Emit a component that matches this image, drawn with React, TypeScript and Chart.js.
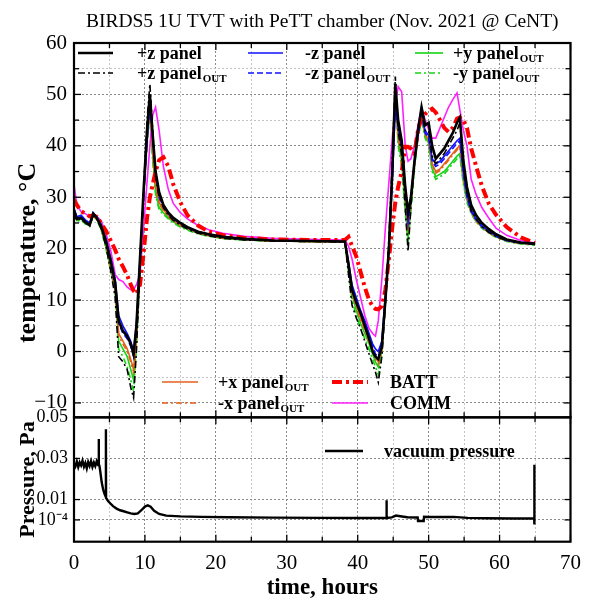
import React, { useEffect, useRef } from 'react';
import { Chart, registerables } from 'chart.js';

Chart.register(...registerables);

const FONT = "'Liberation Serif', 'Times New Roman', serif";

const chartTitle = 'BIRDS5 1U TVT with PeTT chamber (Nov. 2021 @ CeNT)';
const xTitle = 'time, hours';
const tempTitle = 'temperature, °C';
const pressTitle = 'Pressure, Pa';

// shared time grid for the temperature traces (hours)
const hours = [0, 0.4, 1, 1.6, 2.2, 2.7, 3.2, 3.8, 4.5, 5.2,
  5.8, 6.3, 6.9, 7.5, 8, 8.4, 8.8, 9.3, 9.8, 10.3,
  10.7, 11.1, 11.5, 12, 12.6, 13.3, 14, 15, 16, 17.5,
  19, 21, 24, 28, 33, 38.2, 38.7, 39.2, 39.8, 40.4,
  41, 41.6, 42.1, 42.5, 42.9, 43.4, 43.9, 44.4, 44.9, 45.3,
  45.7, 46.2, 46.7, 47.1, 47.5, 48, 48.5, 49, 49.5, 50,
  50.5, 51, 51.6, 52.2, 52.8, 53.4, 54, 54.4, 54.9, 55.4,
  56, 56.7, 57.5, 58.5, 59.5, 61, 63, 65];

const pzPanel = [27.5, 25.8, 26, 25.2, 24.6, 26.8, 26, 24.5, 21.5, 17.5,
  13.5, 6, 4, 3, 1.5, -0.5, 5, 18, 31, 43,
  50, 42, 35, 31, 28.5, 27, 26, 25, 24.2, 23.3,
  22.8, 22.3, 21.9, 21.6, 21.5, 21.4, 17, 12, 9.5, 7.5,
  5, 2.5, 0, -1, -1.5, 1, 10, 20, 36, 52,
  45, 41, 32, 27, 30, 37, 43, 47.5, 44, 44.5,
  40, 37.5, 38.5, 39.5, 41, 42.5, 44.5, 45.5, 37, 32,
  28.5, 26.5, 25, 23.8, 22.8, 21.8, 21.2, 21];

const pzOut = [27, 25.5, 25.8, 25, 24.4, 26.5, 25.8, 24, 20.5, 15.5,
  10.5, -1, -2, -3.5, -7, -9, 0, 16, 31, 45,
  52, 43, 34, 30, 28, 26.5, 25.5, 24.6, 23.8, 23,
  22.5, 22, 21.7, 21.5, 21.4, 21.3, 15, 9, 6.5, 4.5,
  2, -0.5, -2.5, -4, -6, -1, 9, 22, 38, 53.5,
  43, 38, 28, 19.5, 28, 37, 43, 47, 43, 43,
  38, 36.5, 37.5, 38.5, 40, 41.5, 43, 44.5, 36, 31,
  27.5, 25.8, 24.3, 23.2, 22.4, 21.6, 21.1, 20.8];

const mzPanel = [27.8, 26.2, 26.5, 25.6, 25, 27, 26.2, 24.8, 22, 18,
  14, 7, 5, 3.5, 2, 0, 5.5, 18, 30, 41,
  48.5, 42, 35, 30.5, 28.5, 27, 26, 25, 24.2, 23.3,
  22.8, 22.3, 21.9, 21.6, 21.5, 21.4, 17.5, 13, 10.5, 8,
  6, 3.5, 1.5, 0.5, 0, 2, 11, 20, 34, 47.5,
  44, 40, 32, 26, 30, 37, 42, 46, 43, 42,
  37.5, 36.5, 37, 38, 39, 40, 41, 41.5, 35, 30.5,
  27.5, 25.8, 24.5, 23.3, 22.5, 21.6, 21.1, 20.9];

const mzOut = [27.5, 26, 26.2, 25.4, 24.8, 26.8, 26, 24.5, 21.5, 17.2,
  13, 5.5, 3.5, 2.5, 1, -1, 4.5, 17, 30, 41.5,
  48, 41.5, 34.5, 30, 28.2, 26.8, 25.8, 24.8, 24, 23.2,
  22.7, 22.2, 21.8, 21.6, 21.5, 21.4, 17, 12.5, 10, 7.5,
  5.5, 3, 1, -0.5, -1, 1.5, 10.5, 20, 34, 48,
  43.5, 39.5, 31, 25, 29.5, 36.5, 42, 46, 42.5, 41.5,
  37, 36, 36.5, 37.5, 38.5, 39.5, 40.5, 41, 34.5, 30,
  27.2, 25.6, 24.3, 23.2, 22.4, 21.6, 21.1, 20.9];

const pyOut = [27, 25.5, 25.8, 25, 24.5, 26.5, 25.8, 24, 20.5, 16,
  12, 2, 0.5, -1, -3.5, -5.5, 2, 16, 30, 40.5,
  47, 38, 31, 28, 27, 26, 25.2, 24.4, 23.8, 23,
  22.5, 22, 21.7, 21.5, 21.4, 21.3, 16, 11, 8, 5.5,
  3.5, 1.5, -0.5, -2, -3, 0, 10, 21, 36, 51,
  41, 37, 28, 22, 28, 36, 42, 45.5, 42, 40.5,
  35.5, 34, 34.5, 35, 36, 37, 38, 38.5, 33, 29.5,
  27, 25.4, 24.2, 23.1, 22.3, 21.5, 21, 20.8];

const myOut = [26.8, 25.3, 25.6, 24.8, 24.3, 26.3, 25.6, 23.8, 20, 15.5,
  11.5, 0.5, -1, -3, -5.5, -7.8, 1, 15.5, 30, 40,
  46.5, 37, 30.5, 27.5, 26.7, 25.8, 25, 24.2, 23.6, 22.9,
  22.4, 22, 21.7, 21.5, 21.4, 21.3, 15.5, 10, 7, 4.5,
  2.5, 0.5, -1.5, -3, -4.5, -0.5, 9.5, 21, 36, 51.5,
  40, 36, 27, 21, 27.5, 35.5, 41.5, 45, 41.5, 40,
  35, 33.5, 34, 34.5, 35.5, 36.5, 37.5, 38, 32.5, 29,
  26.8, 25.2, 24, 23, 22.2, 21.4, 20.9, 20.7];

const pxOut = [27.2, 25.7, 26, 25.2, 24.6, 26.6, 25.9, 24.2, 21, 16.5,
  12.5, 3.5, 2, 0.5, -1.5, -3.5, 3, 16.5, 30, 41,
  47.5, 39, 32.5, 29, 27.6, 26.4, 25.5, 24.6, 24, 23.1,
  22.6, 22.1, 21.8, 21.5, 21.4, 21.3, 16.5, 11.5, 9, 6.5,
  4.5, 2, 0.5, -1, -2, 0.5, 10, 20.5, 35, 50,
  42, 38.5, 30, 24, 29, 36.5, 42, 46, 42.5, 41,
  36.5, 35, 35.5, 36.5, 37.5, 38.5, 39.5, 40, 34, 30,
  27.2, 25.5, 24.3, 23.2, 22.4, 21.6, 21.1, 20.9];

const mxOut = [27, 25.6, 25.9, 25.1, 24.5, 26.5, 25.8, 24.1, 20.8, 16.2,
  12.2, 3, 1.5, 0, -2, -4, 2.5, 16.2, 30, 40.8,
  47.2, 38.5, 32, 28.7, 27.4, 26.2, 25.4, 24.5, 23.9, 23,
  22.5, 22.1, 21.8, 21.5, 21.4, 21.3, 16.2, 11.2, 8.7, 6.2,
  4.2, 1.7, 0, -1.5, -2.5, 0.2, 9.8, 20.5, 35, 50.5,
  41.5, 38, 29.5, 23.5, 28.8, 36.3, 41.8, 45.8, 42.3, 40.8,
  36.2, 34.7, 35.2, 36.2, 37.2, 38.2, 39.2, 39.7, 33.8, 29.8,
  27.1, 25.4, 24.2, 23.1, 22.3, 21.5, 21, 20.8];

const batt = [29.5, 28.5, 27.3, 26.8, 26.3, 26.5, 26.2, 25, 23.5, 21.5,
  19.8, 18, 16.5, 14.8, 13, 11.8, 11.2, 13, 19, 26,
  30, 32.5, 35, 37.2, 37.8, 36, 32.5, 29, 26.5, 24.5,
  23.3, 22.6, 22.1, 21.8, 21.7, 21.7, 22.3, 20.5, 18.5, 15.5,
  12.5, 10, 8.8, 8.3, 8.2, 8.8, 12, 18, 24.5, 29,
  32, 35, 39.8, 39.8, 39.5, 38.5, 43, 45.5, 46.2, 46.8,
  47.2, 46.5, 45, 43.5, 42.7, 43.5, 45.3, 45.5, 45, 43.5,
  39.5, 36, 32.2, 28.7, 26.6, 24.2, 22.2, 21.1];

const comm = [32.5, 28.5, 27.2, 26.8, 26.2, 26.8, 26.3, 25.5, 23, 19.5,
  15, 14, 13.6, 12.5, 12, 12, 13, 15, 24, 33,
  40, 46, 47.5, 43, 36, 31.5, 28.8, 27, 25.8, 24.5,
  23.7, 23, 22.4, 22, 21.8, 21.7, 20.5, 18, 14, 10.5,
  7, 4.5, 3.5, 3, 6, 14, 24, 33, 42, 48,
  51.5, 50.5, 40, 37, 37.5, 40, 44, 47.5, 45, 43.2,
  41.5, 41.5, 43.5, 45.5, 47.5, 49, 50.3, 47, 43, 40,
  33.5, 30.5, 28, 25.9, 24, 22.6, 21.6, 21.1];

// vacuum pressure trace
const pressureHours = [0, 0.2, 0.4, 0.6, 0.8, 1.0, 1.2, 1.4, 1.6, 1.8,
  2.0, 2.2, 2.4, 2.6, 2.8, 3.0, 3.2, 3.4, 3.48, 3.5,
  3.52, 3.6, 3.75, 3.9, 4.1, 4.3, 4.48, 4.5, 4.52, 4.8,
  5.1, 5.5, 6.0, 6.5, 7.0, 7.5, 8.0, 8.5, 9.0, 9.5,
  10.0, 10.4, 10.8, 11.3, 12.0, 13.0, 15.0, 18.0, 22.0, 28.0,
  35.0, 40.0, 44.0, 44.05, 44.1, 44.8, 45.4, 46.0, 47.0, 48.45,
  48.5, 49.3, 49.35, 50.0, 53.5, 55.5, 58.0, 62.0, 64.88, 64.9,
  64.92];
const pressurePa = [0.0275, 0.0262, 0.0285, 0.0258, 0.0281, 0.0266, 0.0289, 0.0260, 0.0278, 0.0252,
  0.0283, 0.0264, 0.0287, 0.0259, 0.0280, 0.0263, 0.0286, 0.0268, 0.0270, 0.0395,
  0.0272, 0.0262, 0.0225, 0.0185, 0.0150, 0.0128, 0.0113, 0.0442, 0.0108, 0.0093,
  0.0082, 0.0068, 0.0056, 0.0048, 0.0043, 0.0038, 0.0033, 0.0030, 0.0033, 0.0048,
  0.0066, 0.0072, 0.0065, 0.0045, 0.0030, 0.0022, 0.0018, 0.0016, 0.0014, 0.0012,
  0.0011, 0.0010, 0.0010, 0.0097, 0.0010, 0.0013, 0.0022, 0.0019, 0.0014, 0.0013,
  -0.0004, -0.0004, 0.0016, 0.0015, 0.0016, 0.0011, 0.0009, 0.0008, 0.0008, 0.0269,
  -0.0021];

const xTickValues = [0, 10, 20, 30, 40, 50, 60, 70];
const tempTickValues = [-10, -5, 0, 5, 10, 15, 20, 25, 30, 35, 40, 45, 50, 55, 60];
const tempLabelValues = [-10, 0, 10, 20, 30, 40, 50, 60];
const pressureTicks = [0.05, 0.03, 0.01, 0.0001];
const pressureTickLabels = ['0.05', '0.03', '0.01', '10⁻⁴'];
const pressureLegend = 'vacuum pressure';

type Series = { name: string; sub: string; values: number[]; color: string; width: number; dash: number[]; order: number };

const tempSeries: Series[] = [
  { name: '+z panel', sub: '', values: pzPanel, color: '#000000', width: 2.6, dash: [], order: 0 },
  { name: '+z panel', sub: 'OUT', values: pzOut, color: '#000000', width: 1.6, dash: [7, 3, 2, 3], order: 1 },
  { name: '-z panel', sub: '', values: mzPanel, color: '#1010ff', width: 1.6, dash: [], order: 3 },
  { name: '-z panel', sub: 'OUT', values: mzOut, color: '#1010ff', width: 1.6, dash: [6, 3], order: 4 },
  { name: '+y panel', sub: 'OUT', values: pyOut, color: '#14d414', width: 1.6, dash: [], order: 8 },
  { name: '-y panel', sub: 'OUT', values: myOut, color: '#14d414', width: 1.6, dash: [6, 3, 2, 3], order: 9 },
  { name: '+x panel', sub: 'OUT', values: pxOut, color: '#e2601c', width: 1.6, dash: [], order: 6 },
  { name: '-x panel', sub: 'OUT', values: mxOut, color: '#e2601c', width: 1.6, dash: [6, 3, 2, 3], order: 7 },
  { name: 'BATT', sub: '', values: batt, color: '#ff0000', width: 4, dash: [10, 4, 3, 4], order: 2 },
  { name: 'COMM', sub: '', values: comm, color: '#ff20ff', width: 1.6, dash: [], order: 5 },
];

// legend slots: [series index, line start x, line length, text x, row center y]
const legendSlots: number[][] = [
  [0, 78, 35, 137, 53], [2, 248, 35, 305, 53], [4, 415, 28, 453, 53],
  [1, 78, 35, 137, 73], [3, 248, 35, 305, 73], [5, 415, 28, 453, 73],
  [6, 162, 36, 218, 382], [8, 332, 36, 390, 382],
  [7, 162, 36, 218, 403], [9, 332, 36, 390, 403],
];

function drawLabel(ctx: CanvasRenderingContext2D, x: number, y: number, main: string, sub: string) {
  ctx.fillStyle = '#000';
  ctx.textAlign = 'left';
  ctx.textBaseline = 'alphabetic';
  ctx.font = `bold 18px ${FONT}`;
  ctx.fillText(main, x, y + 6);
  if (sub) {
    const w = ctx.measureText(main).width;
    ctx.font = `bold 11px ${FONT}`;
    ctx.fillText(sub, x + w + 1, y + 9);
  }
}

const framePlugin = {
  id: 'frameAndLegend',
  afterDatasetsDraw(chart: any) {
    const { ctx, chartArea, scales } = chart;
    const x = scales.x, yT = scales.yT, yP = scales.yP;
    const L = chartArea.left, R = chartArea.right;
    ctx.save();
    ctx.setLineDash([]);
    ctx.strokeStyle = '#000';
    const line = (x1: number, y1: number, x2: number, y2: number) => {
      ctx.beginPath(); ctx.moveTo(x1, y1); ctx.lineTo(x2, y2); ctx.stroke();
    };
    ctx.lineWidth = 1.3;
    for (const t of x.ticks) {
      const px = x.getPixelForValue(t.value);
      const len = t.value % 10 === 0 ? 7 : 5;
      line(px, yT.top, px, yT.top + len);
      line(px, yT.bottom, px, yT.bottom - len);
      line(px, yP.top, px, yP.top + len);
      line(px, yP.bottom, px, yP.bottom - len);
    }
    for (const t of yT.ticks) {
      const py = yT.getPixelForValue(t.value);
      const len = t.value % 10 === 0 ? 7 : 5;
      line(L, py, L + len, py);
      line(R, py, R - len, py);
    }
    for (const t of yP.ticks) {
      const py = yP.getPixelForValue(t.value);
      line(L, py, L + 6, py);
      line(R, py, R - 6, py);
    }
    ctx.lineWidth = 2.2;
    ctx.strokeRect(L, yT.top, R - L, yT.bottom - yT.top);
    ctx.strokeRect(L, yP.top, R - L, yP.bottom - yP.top);

    // legends
    for (const [si, lx, len, tx, cy] of legendSlots) {
      const s = tempSeries[si];
      ctx.strokeStyle = s.color;
      ctx.lineWidth = s.width;
      ctx.setLineDash(s.dash);
      line(lx, cy, lx + len, cy);
      ctx.setLineDash([]);
      drawLabel(ctx, tx, cy, s.name, s.sub);
    }
    ctx.strokeStyle = '#000';
    ctx.lineWidth = 2.6;
    line(325, 451, 363, 451);
    drawLabel(ctx, 384, 451, pressureLegend, '');
    ctx.restore();
  },
};

const gridColor = (c: any) => (Math.round(c.tick?.value ?? 0) % 10 === 0 ? '#8a8a8a' : '#c4c4c4');

export default function App() {
  const ref = useRef<HTMLCanvasElement>(null);
  useEffect(() => {
    if (!ref.current) return;
    const datasets: any[] = tempSeries.map((s) => ({
      label: s.sub ? `${s.name} ${s.sub}` : s.name,
      data: hours.map((h, i) => ({ x: h, y: s.values[i] })),
      borderColor: s.color,
      borderWidth: s.width,
      borderDash: s.dash,
      pointRadius: 0,
      tension: 0,
      yAxisID: 'yT',
      order: s.order,
    }));
    datasets.push({
      label: pressureLegend,
      data: pressureHours.map((h, i) => ({ x: h, y: pressurePa[i] })),
      borderColor: '#000',
      borderWidth: 2.4,
      pointRadius: 0,
      tension: 0,
      yAxisID: 'yP',
      order: 0,
    });
    const chart = new Chart(ref.current, {
      type: 'line',
      data: { datasets },
      options: {
        animation: false,
        responsive: false,
        maintainAspectRatio: false,
        devicePixelRatio: 1,
        layout: { padding: { top: 0, right: 18, bottom: 0, left: 0 } },
        plugins: {
          legend: { display: false },
          tooltip: { enabled: false },
          title: {
            display: true,
            text: chartTitle,
            fullSize: false,
            color: '#000',
            font: { family: FONT, size: 19.5, weight: 'normal' },
            padding: { top: 10, bottom: 9.6 },
          },
        },
        scales: {
          x: {
            type: 'linear',
            position: 'bottom',
            min: 0,
            max: 70,
            afterFit: (s: any) => { s.height = 60.3; },
            ticks: {
              stepSize: 5,
              autoSkip: false,
              maxRotation: 0,
              padding: 9,
              color: '#000',
              font: { family: FONT, size: 21 },
              callback: (v: any) => (xTickValues.includes(Number(v)) ? String(v) : ''),
            },
            grid: { color: gridColor, lineWidth: 1, drawTicks: false },
            border: { display: false, dash: [2, 2] },
            title: {
              display: true,
              text: xTitle,
              color: '#000',
              font: { family: FONT, size: 23, weight: 'bold' },
              padding: { top: 0, bottom: 0 },
            },
          },
          yT: {
            type: 'linear',
            position: 'left',
            stack: 'panels',
            stackWeight: 3.01,
            weight: 2,
            min: -12.8,
            max: 60,
            afterFit: (s: any) => { s.width = 74; },
            afterBuildTicks: (s: any) => { s.ticks = tempTickValues.map((v) => ({ value: v })); },
            ticks: {
              autoSkip: false,
              padding: 7,
              color: '#000',
              font: { family: FONT, size: 21 },
              callback: (v: any) => {
                const n = Number(v);
                if (!tempLabelValues.includes(n)) return '';
                return n < 0 ? `\u2212${Math.abs(n)}` : String(n);
              },
            },
            grid: { color: gridColor, lineWidth: 1, drawTicks: false },
            border: { display: false, dash: [2, 2] },
            title: {
              display: true,
              text: tempTitle + '\u00a0\u00a0\u00a0\u00a0\u00a0\u00a0\u00a0',
              color: '#000',
              font: { family: FONT, size: 26, weight: 'bold' },
              padding: { top: 13, bottom: 0 },
            },
          },
          yP: {
            type: 'linear',
            position: 'left',
            stack: 'panels',
            stackWeight: 1,
            weight: 1,
            min: -0.0105,
            max: 0.05,
            afterFit: (s: any) => { s.width = 74; },
            afterBuildTicks: (s: any) => { s.ticks = pressureTicks.map((v) => ({ value: v })); },
            ticks: {
              autoSkip: false,
              padding: 6,
              color: '#000',
              font: { family: FONT, size: 18 },
              callback: (v: any) => {
                const i = pressureTicks.indexOf(Number(v));
                return i >= 0 ? pressureTickLabels[i] : '';
              },
            },
            grid: { color: '#8a8a8a', lineWidth: 1, drawTicks: false },
            border: { display: false, dash: [2, 2] },
            title: {
              display: true,
              text: pressTitle,
              color: '#000',
              font: { family: FONT, size: 22, weight: 'bold' },
              padding: { top: 15, bottom: 0 },
            },
          },
        },
      },
      plugins: [framePlugin],
    });
    return () => chart.destroy();
  }, []);
  return (
    <div style={{ position: 'fixed', left: 0, top: 0, width: 590, height: 602, background: '#fff' }}>
      <canvas ref={ref} width={590} height={602} style={{ display: 'block', width: 590, height: 602 }} />
    </div>
  );
}
